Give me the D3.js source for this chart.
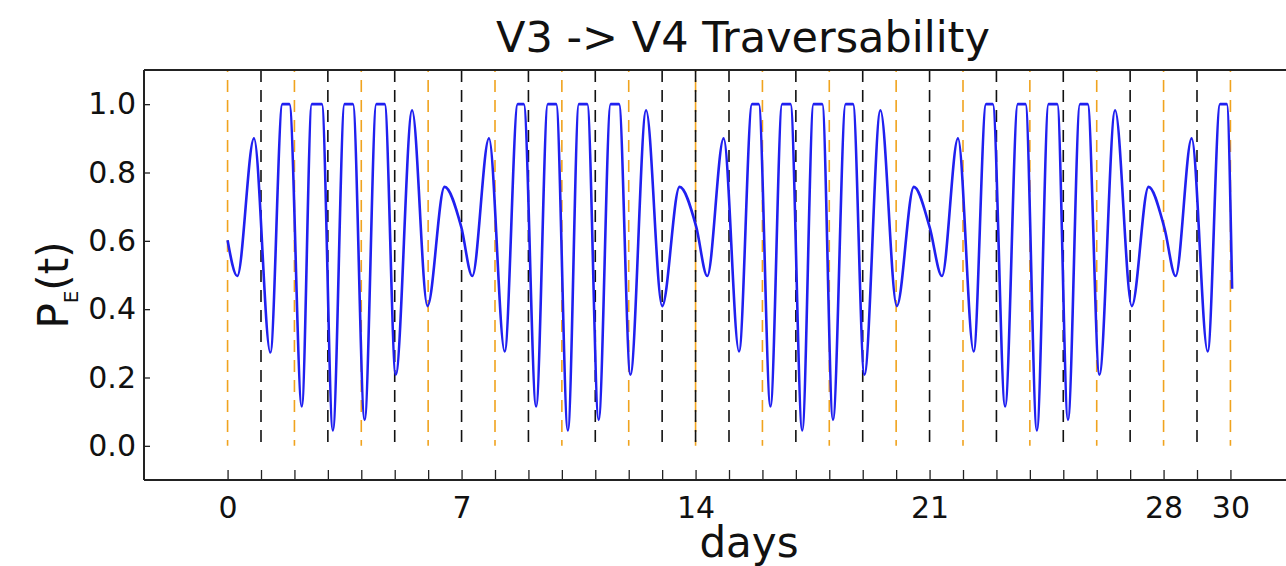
<!DOCTYPE html>
<html>
<head>
<meta charset="utf-8">
<script src="https://cdn.jsdelivr.net/npm/d3@7"></script>
<style>
body { margin: 0; background: #fff; }
text { font-family: "DejaVu Sans", sans-serif; fill: #111; }
</style>
</head>
<body>
<div id="chart"></div>
<script>
// Curve points: day, P_E(t)
const days = [0, 0.29, 0.79, 1.28, 1.64, 1.85, 2.22, 2.52, 2.82, 3.15, 3.50, 3.75, 4.10, 4.45, 4.70,
  5.03, 5.52, 5.98, 6.49, 6.99, 7.32, 7.82, 8.29, 8.68, 8.86, 9.23, 9.58, 9.83, 10.18, 10.51, 10.76,
  11.10, 11.46, 11.71, 12.05, 12.52, 13.00, 13.52, 14.02, 14.35, 14.84, 15.30, 15.69, 15.89, 16.24,
  16.59, 16.84, 17.19, 17.53, 17.79, 18.11, 18.49, 18.71, 19.05, 19.53, 20.02, 20.53, 21.00, 21.37,
  21.85, 22.32, 22.69, 22.89, 23.26, 23.64, 23.87, 24.21, 24.56, 24.82, 25.14, 25.50, 25.73, 26.08,
  26.55, 27.05, 27.55, 28.03, 28.36, 28.84, 29.32, 29.69, 29.89, 30.05];
const pe = [0.602, 0.497, 0.900, 0.273, 1.0, 1.0, 0.115, 1.0, 1.0, 0.045, 1.0, 1.0, 0.076, 1.0, 1.0,
  0.208, 0.982, 0.409, 0.758, 0.641, 0.497, 0.900, 0.276, 1.0, 1.0, 0.115, 1.0, 1.0, 0.045, 1.0, 1.0,
  0.076, 1.0, 1.0, 0.208, 0.982, 0.409, 0.758, 0.641, 0.497, 0.900, 0.276, 1.0, 1.0, 0.115,
  1.0, 1.0, 0.045, 1.0, 1.0, 0.076, 1.0, 1.0, 0.208, 0.982, 0.409, 0.758, 0.641, 0.497,
  0.900, 0.276, 1.0, 1.0, 0.115, 1.0, 1.0, 0.045, 1.0, 1.0, 0.076, 1.0, 1.0, 0.208,
  0.982, 0.409, 0.758, 0.636, 0.497, 0.900, 0.276, 1.0, 1.0, 0.46];

// dashed guide lines
const orangeDays = [0, 2, 4, 6, 8, 10, 12, 14, 16, 18, 20, 22, 24, 26, 28, 30];
const blackDays = [1, 3, 5, 7, 9, 11, 13, 14, 15, 17, 19, 21, 23, 25, 27, 29];

// ticks
const xTicks = d3.range(0, 31);
const xLabels = [0, 7, 14, 21, 28, 30];
const yTicks = [0, 0.2, 0.4, 0.6, 0.8, 1.0];

const W = 1286, H = 566;

const svg = d3.select("#chart")
  .append("svg")
  .attr("width", W)
  .attr("height", H);

const x = d3.scaleLinear().domain([-2.5, 32.5]).range([144, 1314]);
const y = d3.scaleLinear().domain([-0.1, 1.1]).range([480, 70]);

// Orange lines
svg.append("g").selectAll("line")
  .data(orangeDays)
  .enter()
  .append("line")
  .attr("x1", d => x(d)).attr("x2", d => x(d))
  .attr("y1", y(1.1)).attr("y2", y(0))
  .attr("stroke", "#f0a31e")
  .attr("stroke-width", 1.6)
  .attr("stroke-dasharray", "12,8")
  .attr("stroke-dashoffset", 10);

// Black lines
svg.append("g").selectAll("line")
  .data(blackDays)
  .enter()
  .append("line")
  .attr("x1", d => x(d)).attr("x2", d => x(d))
  .attr("y1", y(1.1)).attr("y2", y(0))
  .attr("stroke", "#111")
  .attr("stroke-width", 1.6)
  .attr("stroke-dasharray", "12,8");

// The curve
const line = d3.line()
  .x(d => x(d[0]))
  .y(d => y(d[1]))
  .curve(d3.curveMonotoneX);

svg.append("path")
  .datum(d3.zip(days, pe))
  .attr("d", line)
  .attr("fill", "none")
  .attr("stroke", "#2020f0")
  .attr("stroke-width", 2.6)
  .attr("stroke-linejoin", "round");

// X axis
const gx = svg.append("g")
  .attr("transform", `translate(0,${y(-0.1)})`)
  .call(d3.axisBottom(x)
    .tickValues(xTicks)
    .tickSize(-10)
    .tickPadding(17)
    .tickFormat(d => xLabels.includes(d) ? d : ""));
gx.select(".domain").remove();

// Y axis
const gy = svg.append("g")
  .attr("transform", `translate(${x(-2.5)},0)`)
  .call(d3.axisLeft(y)
    .tickValues(yTicks)
    .tickSize(-6)
    .tickPadding(8)
    .tickFormat(d3.format(".1f")));
gy.select(".domain").remove();

svg.selectAll(".tick line").attr("stroke", "#222").attr("stroke-width", 1.3);
svg.selectAll(".tick text")
  .style("font-family", "DejaVu Sans, sans-serif")
  .style("font-size", "30px")
  .attr("fill", "#111");

// Frame (right side runs off the picture)
const frame = svg.append("g").attr("stroke", "#222").attr("stroke-width", 2);
frame.append("line").attr("x1", x(-2.5)).attr("x2", x(-2.5)).attr("y1", y(1.1)).attr("y2", y(-0.1));
frame.append("line").attr("x1", x(-2.5)).attr("x2", x(32.5)).attr("y1", y(-0.1)).attr("y2", y(-0.1));
frame.append("line").attr("x1", x(-2.5)).attr("x2", x(32.5)).attr("y1", y(1.1)).attr("y2", y(1.1));

// Title
svg.append("text")
  .attr("x", 743).attr("y", 52)
  .attr("text-anchor", "middle")
  .style("font-size", "43px")
  .text("V3 -> V4 Traversability");

// X label
svg.append("text")
  .attr("x", 749).attr("y", 557)
  .attr("text-anchor", "middle")
  .style("font-size", "42px")
  .text("days");

// Y label
const yl = svg.append("text")
  .attr("transform", "translate(68,285) rotate(-90)")
  .attr("text-anchor", "middle")
  .style("font-size", "42px");
yl.append("tspan").text("P");
yl.append("tspan").attr("dy", 10).style("font-size", "20px").text("E");
yl.append("tspan").attr("dy", -10).text("(t)");
</script>
</body>
</html>
